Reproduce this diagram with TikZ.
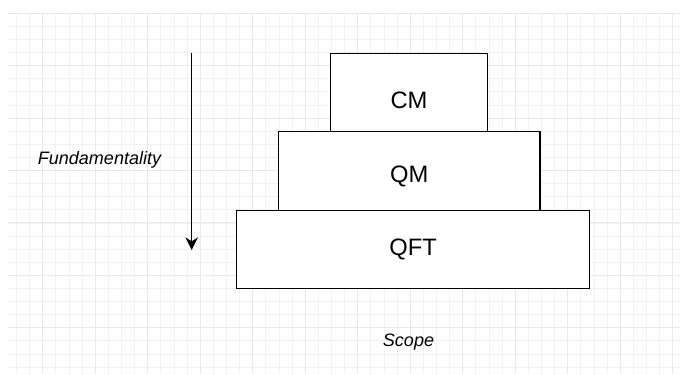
\documentclass[tikz,border=0pt]{standalone}
\usepackage{fontspec}
\setmainfont{Liberation Sans}
\usetikzlibrary{arrows.meta}

\tikzset{%
  grid minor/.style={
    draw=black!5,
    line width=0.6pt
  },
  grid major/.style={
    draw=black!9,
    line width=0.7pt
  },
  layer/.style={
    rectangle,
    draw,
    fill=white,
    line width=1pt,
    inner sep=0pt,
    anchor=north west,
    font=\fontsize{17.8}{20}\selectfont
  },
  axis label/.style={
    anchor=base,
    font=\fontsize{13.5}{15}\selectfont\itshape
  },
}

\begin{document}
\begin{tikzpicture}[x=0.75pt, y=-0.75pt, >={Stealth[length=9.5pt, width=9.5pt, inset=3pt]}]

    \fill [white] (0,0) rectangle (680,374);
    \useasboundingbox (0,0) rectangle (680,374);

    % background grid
    \begin{scope}
      \clip (8,13.3) rectangle (680,374);
      \foreach \k in {-3,...,51}
        \draw [grid minor] (42.7+13.125*\k,13.3) -- ++(0,361);
      \foreach \k in {0,...,28}
        \draw [grid minor] (8,13.3+13.1*\k) -- ++(672,0);
      \foreach \k in {-1,...,12}
        \draw [grid major] (42.7+52.5*\k,13.3) -- ++(0,361);
      \foreach \k in {0,...,7}
        \draw [grid major] (8,13.3+52.4*\k) -- ++(672,0);
    \end{scope}

    % stacked theories, each one drawn over the one above
    \node [layer, minimum width=117.5pt, minimum height=70.7pt] (cm) at (330,52.7) {CM};
    \node [layer, minimum width=196.2pt, minimum height=66.8pt] (qm) at (277.7,131) {QM};
    \node [layer, minimum width=264.7pt, minimum height=58.5pt] (qft) at (236,209.7) {QFT};

    \coordinate (fund-start) at (191.7,52.7);
    \coordinate (fund-end) at (191.7,250);
    \draw [->, line width=1pt] (fund-start) -- (fund-end);

    \node [axis label] (fund) at (99.5,164) {Fundamentality};
    \node [axis label] (scope) at (408.5,346) {Scope};

\end{tikzpicture}
\end{document}
